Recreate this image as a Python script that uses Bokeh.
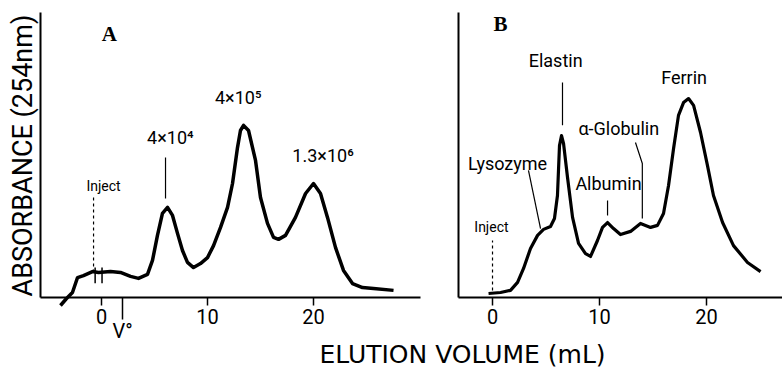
import math
from bokeh.plotting import figure
from bokeh.models import Range1d, FixedTicker, Label, LinearAxis
from bokeh.embed import file_html
from bokeh.resources import INLINE

# ---------------- data ----------------
# Panel A: elution volume (mL) vs absorbance (relative units, axis top = 100)
a_volume = [-3.87, -3.30, -2.74, -2.26, -1.70, -0.85, -0.28, 0.85, 1.79, 2.74, 3.49,
            4.34, 4.81, 5.28, 5.75, 6.23, 6.70, 7.17, 7.64, 8.11, 8.68, 9.34, 10.0,
            10.57, 11.23, 11.89, 12.36, 12.83, 13.11, 13.40, 13.87, 14.53, 15.0, 15.66,
            16.23, 16.70, 17.36, 18.30, 19.25, 20.0, 20.66, 21.32, 22.08, 22.83, 23.68,
            24.62, 25.66, 27.55]
a_absorb = [-2.8, -0.35, 1.75, 7.0, 7.7, 9.1, 8.8, 9.1, 8.8, 7.4, 6.7,
            8.1, 13.0, 21.8, 29.5, 31.6, 28.8, 22.5, 16.5, 12.3, 10.5, 11.9, 14.0,
            18.2, 24.6, 31.6, 40.0, 52.6, 58.6, 60.4, 58.6, 48.1, 35.1, 26.0,
            21.1, 20.4, 21.8, 28.1, 36.5, 40.0, 36.5, 28.1, 17.5, 9.5, 4.9,
            3.5, 3.2, 2.5]

# Panel B
b_volume = [-0.37, 0.75, 1.68, 2.34, 2.90, 3.55, 4.21, 4.77, 5.42, 5.79, 6.07, 6.26,
            6.45, 6.64, 7.01, 7.48, 8.04, 8.69, 9.16, 9.81, 10.28, 10.75, 11.31, 11.96,
            12.90, 13.83, 14.77, 15.42, 15.98, 16.45, 16.92, 17.38, 17.85, 18.32, 18.79,
            19.44, 20.09, 20.65, 21.50, 22.52, 23.83, 25.05]
b_absorb = [1.4, 1.75, 2.5, 5.3, 10.2, 17.2, 21.8, 23.9, 24.9, 27.7, 35.8, 53.3,
            56.8, 54.0, 42.1, 28.1, 19.0, 15.4, 14.4, 20.0, 24.6, 26.3, 24.2, 22.1,
            23.2, 26.0, 24.6, 25.3, 29.5, 39.3, 52.3, 63.9, 68.4, 69.8, 67.4,
            57.9, 46.3, 35.8, 26.3, 18.2, 12.3, 9.1]

tick_values = [0, 10, 20]
void_volume = [2.0]

a_peak_labels = ["4×10⁴", "4×10⁵", "1.3×10⁶"]
b_peak_labels = ["Lysozyme", "Elastin", "Albumin", "α-Globulin", "Ferrin"]

FONT = "Roboto"

# ---------------- figure (both panels share one canvas) ----------------
p = figure(width=782, height=368,
           x_range=Range1d(-9.528, 64.245), y_range=Range1d(-24.912, 104.211),
           x_axis_type=None, y_axis_type=None, output_backend="svg",
           toolbar_location=None, min_border=0)
p.extra_x_ranges = {"B": Range1d(-45.98, 27.10)}
p.grid.visible = False
p.outline_line_color = None
p.background_fill_color = "white"
p.border_fill_color = "white"


def x_axis(range_name, ticker, bounds, minor_out, standoff):
    ax = LinearAxis(x_range_name=range_name, ticker=ticker, bounds=bounds,
                    fixed_location=0, axis_line_width=2, axis_line_color="black",
                    major_tick_out=8, major_tick_in=0, major_tick_line_width=1.5,
                    minor_tick_out=minor_out, minor_tick_in=0, minor_tick_line_width=1.5,
                    major_label_text_font=FONT, major_label_text_font_size="20px",
                    major_label_text_color="black", major_label_standoff=standoff)
    p.add_layout(ax, "below")
    return ax


def y_axis(range_name, loc):
    ax = LinearAxis(x_range_name=range_name, fixed_location=loc,
                    ticker=FixedTicker(ticks=[]), bounds=(0, 100),
                    axis_line_width=2, axis_line_color="black",
                    major_label_text_font_size="0px", major_tick_line_color=None,
                    minor_tick_line_color=None)
    p.add_layout(ax, "left")
    return ax


x_axis("default", FixedTicker(ticks=tick_values, minor_ticks=void_volume),
       (-5.755, 30.1), 22, -11)
x_axis("B", FixedTicker(ticks=tick_values, minor_ticks=[]), (-3.18, 27.1), 0, 3)
y_axis("default", -5.755)
y_axis("B", -3.18)


def lab(x, y, text, size="18px", font=FONT, style="normal", rng="default", angle=0):
    p.add_layout(Label(x=x, y=y, x_range_name=rng, text=text, text_font=font,
                       text_font_size=size, text_font_style=style, text_align="center",
                       text_baseline="middle", text_color="black",
                       angle=angle, angle_units="rad"))


# ---------------- panel A ----------------
p.line(a_volume, a_absorb, line_color="black", line_width=3.5, line_join="round")
p.line([-0.75, -0.75], [8.8, 35.1], line_color="black", line_width=1.2, line_dash="3 3")
p.line([-0.6, -0.6], [5.0, 10.5], line_color="black", line_width=1.5)
p.line([0.05, 0.05], [5.0, 10.5], line_color="black", line_width=1.5)
lab(0.19, 39.0, "Inject", size="14px")
p.line([6.04, 6.04], [34.7, 49.1], line_color="black", line_width=1.2)
lab(6.5, 56.1, a_peak_labels[0])
lab(12.9, 70.2, a_peak_labels[1])
lab(20.9, 49.8, a_peak_labels[2])
lab(0.75, 92.3, "A", size="21px", font="Liberation Serif", style="bold")
lab(2.0, -11.9, "V°", size="20px")

# ---------------- panel B ----------------
p.line(b_volume, b_absorb, x_range_name="B", line_color="black", line_width=3.2,
       line_join="round")
p.line([0, 0], [2.5, 20.0], x_range_name="B", line_color="black", line_width=1.2,
       line_dash="3 3")
lab(-0.1, 24.6, "Inject", size="14px", rng="B")
p.line([3.36, 4.49], [44.6, 24.2], x_range_name="B", line_color="black", line_width=1.2)
p.line([6.54, 6.54], [60.4, 75.4], x_range_name="B", line_color="black", line_width=1.2)
p.line([10.75, 10.75], [28.8, 34.0], x_range_name="B", line_color="black", line_width=1.2)
p.line([13.36, 14.0, 14.0], [54.4, 47.0, 27.7], x_range_name="B", line_color="black",
       line_width=1.2)
lab(1.4, 47.0, b_peak_labels[0], rng="B")
lab(5.9, 83.2, b_peak_labels[1], rng="B")
lab(10.84, 40.0, b_peak_labels[2], rng="B")
lab(11.8, 59.3, b_peak_labels[3], rng="B")
lab(17.9, 77.2, b_peak_labels[4], rng="B")
lab(0.75, 96.1, "B", size="21px", font="Liberation Serif", style="bold", rng="B")

# ---------------- axis titles ----------------
lab(-7.45, 49.8, "ABSORBANCE (254nm)", size="27px", angle=math.pi / 2)
lab(34.06, -19.85, "ELUTION VOLUME (mL)", size="25px", font="DejaVu Sans")

open("out.html", "w").write(file_html(p, INLINE))
